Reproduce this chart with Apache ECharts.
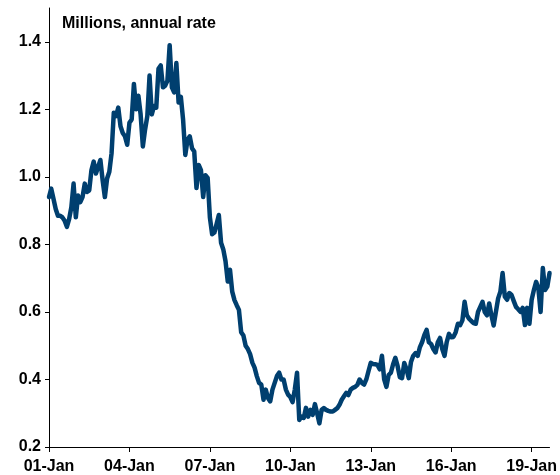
<!DOCTYPE html>
<html>
<head>
<meta charset="utf-8">
<script src="https://cdn.jsdelivr.net/npm/echarts@6/dist/echarts.min.js"></script>
<style>html,body{margin:0;padding:0;background:#fff}#c{width:560px;height:475px}</style>
</head>
<body>
<div id="c"></div>
<script>
// Monthly categories, Jan 2001 .. Sep 2019
const monthNames = ['Jan','Feb','Mar','Apr','May','Jun','Jul','Aug','Sep','Oct','Nov','Dec'];
const startYear = 2001;
const nMonths = 225;
const categories = [];
for (let i = 0; i < nMonths; i++) {
  const y = startYear + Math.floor(i / 12);
  categories.push(String(y % 100).padStart(2, '0') + '-' + monthNames[i % 12]);
}

// New home sales, millions, annual rate
const sales = [
  // 2001
  0.94, 0.965, 0.935, 0.905, 0.885, 0.885, 0.88, 0.87, 0.852, 0.875, 0.91, 0.98,
  // 2002
  0.88, 0.945, 0.925, 0.94, 0.98, 0.955, 0.96, 1.02, 1.045, 1.01, 1.03, 1.05,
  // 2003
  0.99, 0.94, 0.995, 1.015, 1.07, 1.19, 1.18, 1.205, 1.15, 1.13, 1.12, 1.095,
  // 2004
  1.16, 1.17, 1.275, 1.20, 1.24, 1.185, 1.09, 1.14, 1.18, 1.30, 1.185, 1.21,
  // 2005
  1.205, 1.32, 1.33, 1.265, 1.27, 1.285, 1.39, 1.265, 1.25, 1.337, 1.22, 1.237,
  // 2006
  1.17, 1.065, 1.11, 1.12, 1.085, 1.075, 0.967, 1.035, 1.02, 0.94, 1.005, 0.997,
  // 2007
  0.88, 0.83, 0.835, 0.86, 0.887, 0.805, 0.785, 0.75, 0.69, 0.725, 0.66, 0.635,
  // 2008
  0.62, 0.606, 0.54, 0.53, 0.50, 0.49, 0.475, 0.45, 0.435, 0.41, 0.39, 0.385,
  // 2009
  0.34, 0.37, 0.345, 0.335, 0.37, 0.39, 0.41, 0.42, 0.40, 0.40, 0.37, 0.355,
  // 2010
  0.348, 0.333, 0.37, 0.42, 0.28, 0.29, 0.286, 0.316, 0.29, 0.31, 0.295, 0.327,
  // 2011
  0.30, 0.27, 0.31, 0.315, 0.31, 0.307, 0.305, 0.305, 0.31, 0.315, 0.325, 0.34,
  // 2012
  0.35, 0.36, 0.354, 0.37, 0.375, 0.378, 0.384, 0.40, 0.39, 0.385, 0.40, 0.425,
  // 2013
  0.449, 0.446, 0.445, 0.443, 0.43, 0.47, 0.40, 0.378, 0.413, 0.42, 0.445, 0.464,
  // 2014
  0.44, 0.407, 0.404, 0.449, 0.43, 0.404, 0.452, 0.47, 0.478, 0.47, 0.496, 0.511,
  // 2015
  0.532, 0.547, 0.51, 0.505, 0.49, 0.48, 0.51, 0.523, 0.49, 0.47, 0.511, 0.535,
  // 2016
  0.525, 0.526, 0.54, 0.565, 0.561, 0.575, 0.63, 0.59, 0.58, 0.573, 0.567, 0.565,
  // 2017
  0.60, 0.615, 0.63, 0.60, 0.59, 0.625, 0.59, 0.56, 0.60, 0.64, 0.66, 0.715,
  // 2018
  0.645, 0.636, 0.656, 0.65, 0.632, 0.615, 0.608, 0.60, 0.612, 0.561, 0.612, 0.565,
  // 2019
  0.636, 0.665, 0.689, 0.671, 0.60, 0.73, 0.665, 0.675, 0.715
];

const yTicks = [0.2, 0.4, 0.6, 0.8, 1.0, 1.2, 1.4];
const titleText = 'Millions, annual rate';

const chart = echarts.init(document.getElementById('c'), null, {renderer: 'canvas'});
chart.setOption({
  animation: false,
  backgroundColor: '#fff',
  title: {
    text: titleText,
    left: 57,
    top: 11,
    textStyle: {fontFamily: 'Liberation Sans, Arial', fontWeight: 'bold', fontSize: 16, color: '#000'}
  },
  grid: {left: 49, right: 9, top: 8, bottom: 28, containLabel: false},
  xAxis: {
    type: 'category',
    data: categories,
    boundaryGap: false,
    axisLine: {lineStyle: {color: '#000', width: 1}},
    axisTick: {show: true, interval: 35, length: 5, lineStyle: {color: '#000'}},
    axisLabel: {
      interval: 35,
      margin: 12,
      fontFamily: 'Liberation Sans, Arial', fontWeight: 'bold', fontSize: 16, color: '#000'
    },
    splitLine: {show: false}
  },
  yAxis: {
    type: 'value',
    min: 0.2,
    max: 1.5,
    interval: 0.2,
    axisLine: {show: true, lineStyle: {color: '#000', width: 1}},
    axisTick: {show: true, length: 4, customValues: yTicks, lineStyle: {color: '#000'}},
    axisLabel: {
      customValues: yTicks,
      margin: 8,
      formatter: v => v.toFixed(1),
      fontFamily: 'Liberation Sans, Arial', fontWeight: 'bold', fontSize: 16, color: '#000'
    },
    splitLine: {show: false}
  },
  series: [{
    type: 'line',
    data: sales,
    symbol: 'none',
    smooth: false,
    lineStyle: {color: '#003F6F', width: 4.5, join: 'round', cap: 'round'}
  }]
});
</script>
</body>
</html>
